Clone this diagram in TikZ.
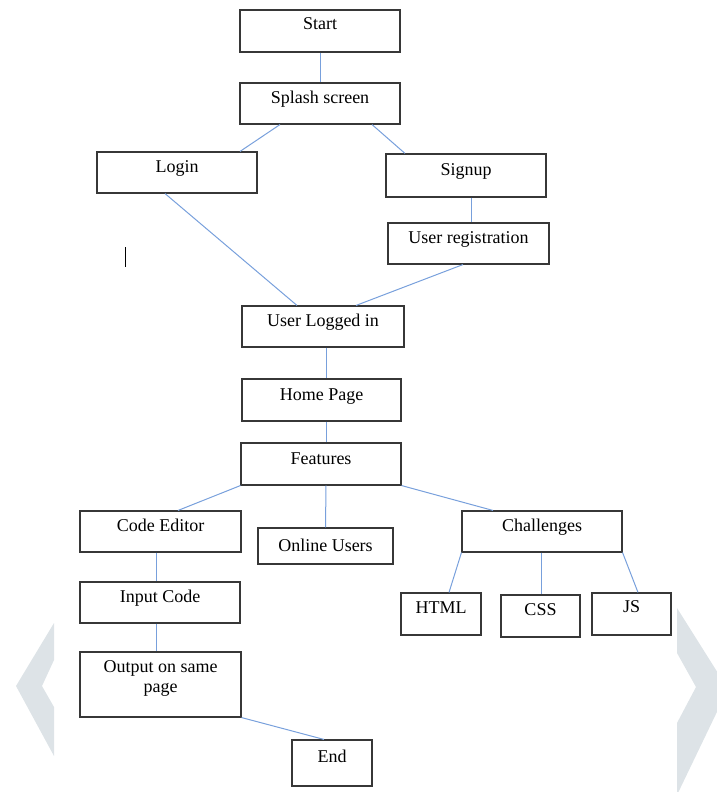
\documentclass[tikz,border=0pt]{standalone}
\usepackage{fontspec}
\setmainfont{Liberation Serif}
\definecolor{linkc}{RGB}{120,160,220}
\definecolor{boxc}{RGB}{55,55,55}
\definecolor{chevc}{RGB}{221,227,231}
\begin{document}
\begin{tikzpicture}[x=1pt,y=-1pt,
  box/.style={draw=boxc, line width=1.1pt, inner sep=0pt, minimum width=#1},
  box/.default=160pt,
  lbl/.style={anchor=base, inner sep=0pt, font=\fontsize{18}{20}\selectfont},
  link/.style={draw=linkc, line width=1pt}]
\useasboundingbox (0,0) rectangle (717,792);
\begin{scope}
\clip (0,0) rectangle (717,792);
\fill[chevc] (54,623) -- (16,686) -- (54,756) -- (54,707) -- (42,686) -- (54,660) -- cycle;
\fill[chevc] (677,608) -- (677,653) -- (696,687) -- (677,723) -- (677,795) -- (728,689) -- cycle;
\end{scope}
% boxes
\node[box, minimum height=42pt] (start) at (320,31) {};
\node[box, minimum height=41pt] (splash) at (320,103.5) {};
\node[box, minimum height=41pt] (login) at (177,172.5) {};
\node[box, minimum height=43pt] (signup) at (466,175.5) {};
\node[box=161pt, minimum height=41pt] (userreg) at (468.5,243.5) {};
\node[box=162pt, minimum height=41pt] (uli) at (323,326.5) {};
\node[box=159pt, minimum height=42pt] (home) at (321.5,400) {};
\node[box, minimum height=42pt] (features) at (321,464) {};
\node[box=161pt, minimum height=41pt] (codeed) at (160.5,531.5) {};
\node[box=135pt, minimum height=36pt] (online) at (325.5,546) {};
\node[box, minimum height=41pt] (challenges) at (542,531.5) {};
\node[box=80pt, minimum height=42pt] (html) at (441,614) {};
\node[box=79pt, minimum height=42pt] (css) at (540.5,616) {};
\node[box=79pt, minimum height=42pt] (js) at (631.5,614) {};
\node[box, minimum height=41pt] (input) at (160,602.5) {};
\node[box=161pt, minimum height=65pt] (output) at (160.5,684.5) {};
\node[box=80pt, minimum height=46pt] (end) at (332,763) {};
% labels
\node[lbl] (start-t) at (320,30) {Start};
\node[lbl] (splash-t) at (320,103) {Splash screen};
\node[lbl] (login-t) at (177,172) {Login};
\node[lbl] (signup-t) at (466,175) {Signup};
\node[lbl] (userreg-t) at (468.5,243) {User registration};
\node[lbl] (uli-t) at (323,326) {User Logged in};
\node[lbl] (home-t) at (321.5,400) {Home Page};
\node[lbl] (features-t) at (321,464) {Features};
\node[lbl] (codeed-t) at (160.5,531) {Code Editor};
\node[lbl] (online-t) at (325.5,551) {Online Users};
\node[lbl] (challenges-t) at (542,531) {Challenges};
\node[lbl] (html-t) at (441,613) {HTML};
\node[lbl] (css-t) at (540.5,615) {CSS};
\node[lbl] (js-t) at (631.5,612) {JS};
\node[lbl] (input-t) at (160,602) {Input Code};
\node[lbl] (output-t1) at (160.5,672) {Output on same};
\node[lbl] (output-t2) at (160.5,692) {page};
\node[lbl] (end-t) at (332,762) {End};
% connectors
\draw[link] (start.south) -- (splash.north);
\draw[link] ([xshift=-40pt]splash.south) -- ([xshift=63pt]login.north);
\draw[link] ([xshift=52pt]splash.south) -- ([xshift=-61pt]signup.north);
\draw[link] ([xshift=-12pt]login.south) -- ([xshift=-26pt]uli.north);
\draw[link] ([xshift=5pt]signup.south) -- ([xshift=2.5pt]userreg.north);
\draw[link] ([xshift=-5.5pt]userreg.south) -- ([xshift=33pt]uli.north);
\draw[link] ([xshift=3pt]uli.south) -- ([xshift=4.5pt]home.north);
\draw[link] ([xshift=4.5pt]home.south) -- ([xshift=5pt]features.north);
\draw[link] (features.south west) -- ([xshift=17.5pt]codeed.north);
\draw[link] ([xshift=5pt]features.south) -- (online.north);
\draw[link] (features.south east) -- ([xshift=-49pt]challenges.north);
\draw[link] (challenges.south west) -- ([xshift=8pt]html.north);
\draw[link] ([xshift=-1pt]challenges.south) -- ([xshift=0.5pt]css.north);
\draw[link] (challenges.south east) -- ([xshift=6.5pt]js.north);
\draw[link] ([xshift=-4.5pt]codeed.south) -- ([xshift=-4pt]input.north);
\draw[link] ([xshift=-4pt]input.south) -- ([xshift=-4.5pt]output.north);
\draw[link] (output.south east) -- ([xshift=-8pt]end.north);
% stray cursor mark
\draw[black, line width=1pt] (125,247) -- (125,267);
\end{tikzpicture}
\end{document}
